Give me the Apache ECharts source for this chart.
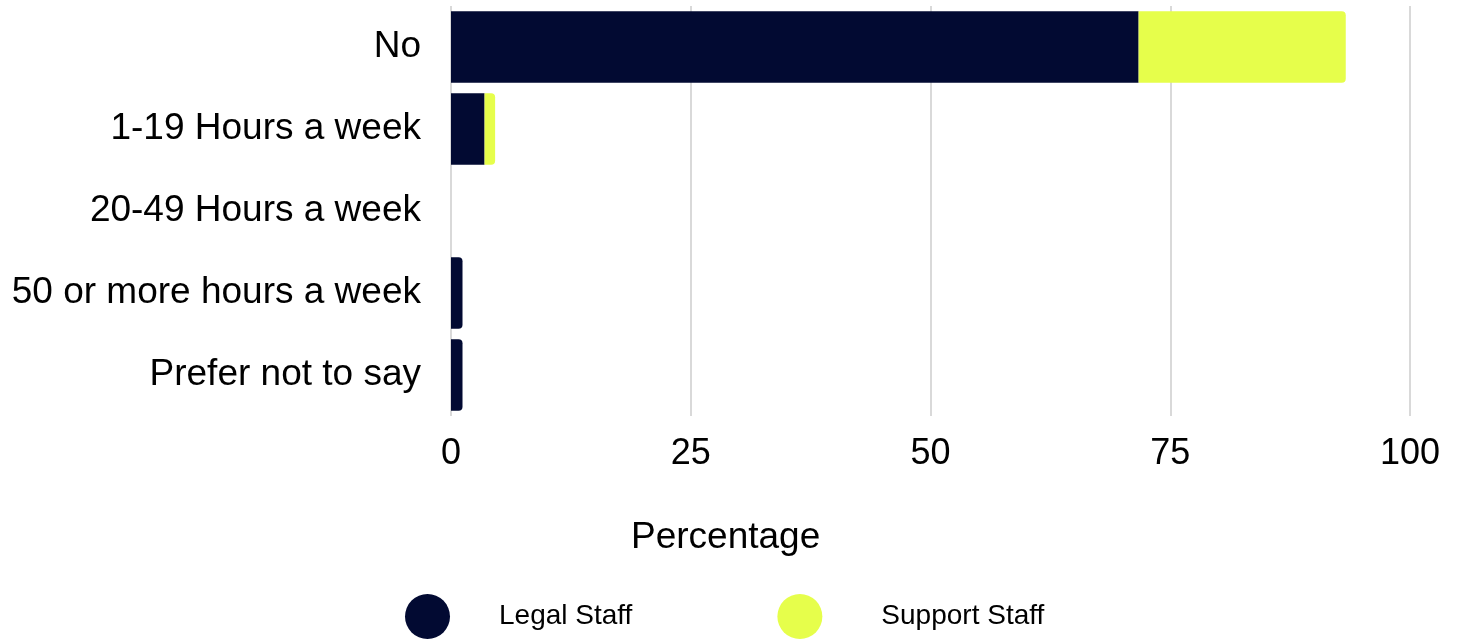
<!DOCTYPE html>
<html>
<head>
<meta charset="utf-8">
<script src="https://cdn.jsdelivr.net/npm/echarts@6/dist/echarts.min.js"></script>
<style>
  html, body { margin: 0; padding: 0; background: #fff; }
  #chart { width: 1460px; height: 639px; }
</style>
</head>
<body>
<div id="chart"></div>
<script>
const categories = ['No', '1-19 Hours a week', '20-49 Hours a week', '50 or more hours a week', 'Prefer not to say']
const legalStaff = [71.7, 3.5, 0, 1.2, 1.2]
const supportStaff = [21.6, 1.1, 0, 0, 0]
const xTicks = [0, 25, 50, 75, 100]

const legalColor = '#020a32'
const supportColor = '#e6fe4b'
const font = 'Liberation Sans, Arial, sans-serif'

// round the right end of whichever bar sits on top of the stack
const legalData = legalStaff.map((v, i) => ({
  value: v,
  itemStyle: { borderRadius: supportStaff[i] > 0 ? 0 : [0, 4, 4, 0] }
}))
const supportData = supportStaff.map((v) => ({
  value: v,
  itemStyle: { borderRadius: [0, 4, 4, 0] }
}))

const chart = echarts.init(document.getElementById('chart'))
chart.setOption({
  animation: false,
  textStyle: { fontFamily: font },
  title: {
    text: 'Percentage',
    left: 626,
    top: 514,
    textStyle: { fontSize: 37, fontWeight: 'normal', color: '#000', fontFamily: font }
  },
  legend: {
    data: [
      { name: 'Legal Staff' },
      { name: 'Support Staff', textStyle: { padding: [0, 0, 0, 54] } }
    ],
    left: 400,
    top: 589,
    icon: 'circle',
    itemWidth: 45,
    itemHeight: 45,
    itemGap: 145,
    textStyle: { fontSize: 28, color: '#000', padding: [0, 0, 0, 44], fontFamily: font }
  },
  grid: {
    left: 451,
    right: 50,
    top: 6,
    bottom: 223,
    containLabel: false
  },
  xAxis: {
    type: 'value',
    min: xTicks[0],
    max: xTicks[xTicks.length - 1],
    interval: 25,
    axisLine: { show: false },
    axisTick: { show: false },
    axisLabel: { fontSize: 36, color: '#000', margin: 20, fontFamily: font },
    splitLine: { lineStyle: { color: '#cccccc', width: 1.5 } }
  },
  yAxis: {
    type: 'category',
    data: categories,
    inverse: true,
    axisLine: { show: false },
    axisTick: { show: false },
    axisLabel: { fontSize: 37, color: '#000', margin: 30, padding: [8, 0, 0, 0], fontFamily: font }
  },
  series: [
    {
      name: 'Legal Staff',
      type: 'bar',
      stack: 'total',
      barCategoryGap: '13%',
      itemStyle: { color: legalColor },
      data: legalData
    },
    {
      name: 'Support Staff',
      type: 'bar',
      stack: 'total',
      barCategoryGap: '13%',
      itemStyle: { color: supportColor },
      data: supportData
    }
  ]
})
</script>
</body>
</html>
